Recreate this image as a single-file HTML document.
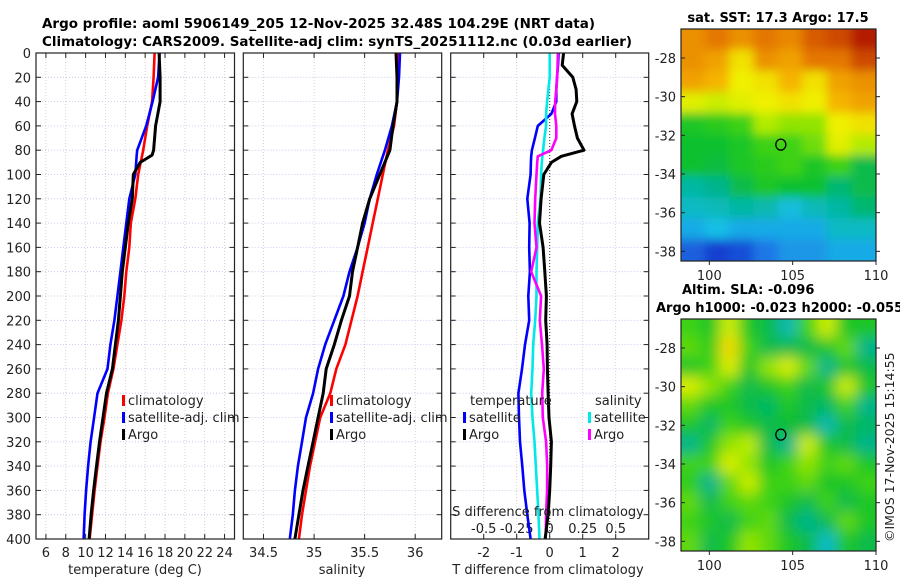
<!DOCTYPE html>
<html><head><meta charset="utf-8"><style>
body{margin:0;background:#fff;}
svg{display:block;font-family:"DejaVu Sans","Liberation Sans",sans-serif;}
</style></head><body>
<svg id="chart" width="900" height="580" viewBox="0 0 900 580" xmlns="http://www.w3.org/2000/svg">
<defs>
<filter id="blurS" filterUnits="userSpaceOnUse" x="660" y="10" width="240" height="270"><feGaussianBlur stdDeviation="5"/></filter>
<filter id="blurA" filterUnits="userSpaceOnUse" x="660" y="300" width="240" height="270"><feGaussianBlur stdDeviation="7"/></filter>
<clipPath id="clipTop"><rect x="681" y="29" width="195" height="232"/></clipPath>
<clipPath id="clipBot"><rect x="681" y="319" width="195" height="232"/></clipPath>
</defs>
<text x="42" y="28" font-size="13.5" font-weight="bold" textLength="553" lengthAdjust="spacingAndGlyphs">Argo profile: aoml 5906149_205 12-Nov-2025 32.48S 104.29E (NRT data)</text>
<text x="42" y="46" font-size="13.5" font-weight="bold" textLength="590" lengthAdjust="spacingAndGlyphs">Climatology: CARS2009. Satellite-adj clim: synTS_20251112.nc (0.03d earlier)</text>
<g id="g1"></g><g id="g2"></g><g id="g3"></g><g id="gm"></g>
<text x="778" y="22" font-size="13" font-weight="bold" text-anchor="middle">sat. SST: 17.3 Argo: 17.5</text>
<text x="682" y="294" font-size="13" font-weight="bold">Altim. SLA: -0.096</text>
<text x="656" y="312" font-size="13" font-weight="bold">Argo h1000: -0.023 h2000: -0.055</text>
<text transform="translate(894,542) rotate(-90)" font-size="12.5" fill="#222">©IMOS 17-Nov-2025 15:14:55</text>
</svg>
<script>
// ---- data ----
const tDepths=[0,20,40,60,80,84,90,100,120,140,160,180,200,220,240,260,280,300,320,340,360,380,400];
const tClim=[16.95,16.85,16.7,16.2,15.8,15.7,15.55,15.3,15.0,14.55,14.4,14.1,13.9,13.6,13.2,12.8,12.24,11.9,11.5,11.2,10.9,10.65,10.4];
const tSat=[17.45,17.3,16.75,16.1,15.2,15.15,15.1,15.0,14.4,14.1,13.8,13.5,13.2,12.9,12.5,12.2,11.2,10.85,10.5,10.25,10.05,9.9,9.8];
const tArgo=[17.4,17.5,17.5,17.05,16.85,16.7,15.5,14.8,14.7,14.3,14.0,13.7,13.5,13.3,13.0,12.7,12.1,11.75,11.4,11.1,10.8,10.55,10.35];
const sDepths=[0,20,40,60,80,100,120,140,160,180,200,220,240,260,280,300,320,340,360,380,400];
const sClim=[35.83,35.83,35.82,35.79,35.73,35.68,35.63,35.58,35.53,35.48,35.43,35.37,35.31,35.22,35.16,35.06,35.01,34.96,34.92,34.88,34.85];
const sSat=[35.85,35.84,35.82,35.77,35.70,35.62,35.55,35.50,35.43,35.35,35.29,35.20,35.11,35.04,34.99,34.92,34.88,34.84,34.81,34.79,34.76];
const sArgo=[35.81,35.82,35.82,35.78,35.75,35.65,35.55,35.48,35.43,35.38,35.35,35.27,35.20,35.12,35.09,35.04,34.99,34.94,34.89,34.85,34.81];
const dDepths=[0,10,20,30,40,50,60,70,80,85,90,100,120,140,160,180,200,220,240,260,280,300,320,340,360,380,400];
const dTSat=[0.27,0.25,0.22,0.2,0.2,0.05,-0.36,-0.45,-0.54,-0.56,-0.57,-0.58,-0.68,-0.61,-0.62,-0.6,-0.65,-0.62,-0.75,-0.84,-0.95,-0.93,-0.9,-0.83,-0.77,-0.68,-0.58];
const dTArgo=[0.42,0.38,0.7,0.8,0.82,0.68,0.75,0.84,1.04,0.35,0.05,-0.18,-0.26,-0.31,-0.2,-0.15,-0.1,-0.12,-0.08,-0.07,-0.05,-0.02,0.05,0.03,0.0,-0.05,-0.14];
const dSSat=[0,0,0,-0.01,-0.02,-0.027,-0.027,-0.04,-0.05,-0.055,-0.06,-0.065,-0.07,-0.09,-0.095,-0.1,-0.1,-0.11,-0.125,-0.13,-0.14,-0.13,-0.115,-0.105,-0.095,-0.085,-0.077];
const dSArgo=[0.062,0.06,0.057,0.05,0.042,0.04,0.05,0.05,0.012,-0.09,-0.095,-0.1,-0.11,-0.115,-0.1,-0.14,-0.065,-0.075,-0.058,-0.045,-0.057,-0.052,-0.027,-0.019,-0.02,-0.027,-0.03];
const depthTicks=[0,20,40,60,80,100,120,140,160,180,200,220,240,260,280,300,320,340,360,380,400];
const tTicks=[6,8,10,12,14,16,18,20,22,24];
const sTicks=[34.5,35,35.5,36];
const dTTicks=[-2,-1,0,1,2];
const dSTicks=[-0.5,-0.25,0,0.25,0.5];
const dSTickLabels=["-0.5","-0.25","0","0.25","0.5"];
const lonTicks=[100,105,110];
const latTicks=[-28,-30,-32,-34,-36,-38];
const sstGrid=[
[0.82,0.85,0.82,0.85,0.83,0.88,0.9,0.95],
[0.82,0.8,0.72,0.82,0.8,0.85,0.85,0.9],
[0.8,0.78,0.7,0.72,0.78,0.72,0.8,0.82],
[0.68,0.65,0.68,0.7,0.72,0.7,0.78,0.8],
[0.5,0.52,0.55,0.62,0.6,0.6,0.7,0.72],
[0.48,0.48,0.5,0.55,0.55,0.58,0.68,0.62],
[0.48,0.46,0.5,0.52,0.55,0.5,0.55,0.45],
[0.38,0.4,0.45,0.5,0.48,0.48,0.42,0.45],
[0.35,0.36,0.38,0.37,0.33,0.36,0.38,0.42],
[0.3,0.32,0.3,0.3,0.3,0.3,0.35,0.35],
[0.22,0.18,0.2,0.25,0.28,0.28,0.3,0.3]];
const slaGrid=[
[0.6,0.55,0.7,0.55,0.5,0.42,0.6,0.7,0.55,0.55],
[0.62,0.58,0.78,0.6,0.5,0.5,0.5,0.55,0.62,0.45],
[0.55,0.6,0.72,0.55,0.65,0.72,0.62,0.45,0.55,0.5],
[0.72,0.65,0.6,0.5,0.55,0.6,0.5,0.55,0.7,0.55],
[0.62,0.55,0.55,0.5,0.48,0.55,0.5,0.48,0.6,0.45],
[0.55,0.48,0.6,0.55,0.5,0.52,0.5,0.42,0.5,0.48],
[0.45,0.55,0.65,0.68,0.5,0.45,0.7,0.55,0.5,0.45],
[0.6,0.6,0.72,0.65,0.55,0.6,0.65,0.6,0.62,0.55],
[0.58,0.45,0.62,0.7,0.6,0.6,0.62,0.55,0.55,0.6],
[0.62,0.5,0.6,0.62,0.6,0.55,0.5,0.6,0.5,0.55],
[0.6,0.55,0.5,0.6,0.62,0.5,0.45,0.5,0.62,0.55],
[0.62,0.5,0.55,0.65,0.62,0.55,0.5,0.4,0.55,0.5]];
const argoLon=104.29, argoLat=-32.48;

// ---- helpers ----
const NS="http://www.w3.org/2000/svg";
function mk(tag,attrs,parent){const e=document.createElementNS(NS,tag);for(const k in attrs)e.setAttribute(k,attrs[k]);parent.appendChild(e);return e;}
const Y0=53,Y1=539;
const yD=d=>Y0+(d/400)*(Y1-Y0);
function lin(d0,d1,r0,r1){return v=>r0+(v-d0)/(d1-d0)*(r1-r0);}

function frame(g,x0,x1){
  depthTicks.forEach(d=>{
    const l=mk('line',{x1:x0,x2:x1,y1:yD(d),y2:yD(d),stroke:'#b8c4e8','stroke-width':0.8,'stroke-dasharray':'1,2'},g);
    
    
    mk('line',{x1:x0,x2:x0+5,y1:yD(d),y2:yD(d),stroke:'#222'},g);
    mk('line',{x1:x1,x2:x1-5,y1:yD(d),y2:yD(d),stroke:'#222'},g);
  });
}
function box(g,x0,x1,name){
  const r=mk('rect',{x:x0,y:Y0,width:x1-x0,height:Y1-Y0,fill:'none',stroke:'#222','stroke-width':1.2},g);
  
  
}
function vgrid(g,xs,sc){
  xs.forEach(v=>{
    const x=sc(v);
    mk('line',{x1:x,x2:x,y1:Y0,y2:Y1,stroke:'#d8c0c0','stroke-width':0.8,'stroke-dasharray':'1,2'},g);
    mk('line',{x1:x,x2:x,y1:Y1,y2:Y1-5,stroke:'#222'},g);
    mk('line',{x1:x,x2:x,y1:Y0,y2:Y0+5,stroke:'#222'},g);
  });
}
function line(g,xs,ds,sc,color,name,w){
  const pts=xs.map((v,i)=>sc(v).toFixed(1)+','+yD(ds[i]).toFixed(1)).join(' ');
  const p=mk('polyline',{points:pts,fill:'none',stroke:color,'stroke-width':w||2.6,'stroke-linejoin':'round'},g);
  
  
}
function txt(g,x,y,s,opts){const t=mk('text',Object.assign({x:x,y:y,'font-size':13,fill:'#222'},opts||{}),g);t.textContent=s;return t;}
function legend(g,x,y,items){
  items.forEach((it,i)=>{
    const yy=y+i*17;
    const b=mk('rect',{x:x,y:yy-10,width:3,height:11,fill:it[1]},g);
    
    
    const t=txt(g,x+6,yy,it[0]);
    
    
  });
}

// ---- panel 1: temperature ----
{
  const g=document.getElementById('g1');const x0=36,x1=234.5;
  const sc=lin(5,25,x0,x1);
  frame(g,x0,x1);vgrid(g,tTicks,sc);
  depthTicks.forEach(d=>{const t=txt(g,31,yD(d)+5,String(d),{'text-anchor':'end'});});
  tTicks.forEach(v=>{const t=txt(g,sc(v),557,String(v),{'text-anchor':'middle'});});
  line(g,tClim,tDepths,sc,'#ff0000','temperature-climatology-line');
  line(g,tSat,tDepths,sc,'#0000ff','temperature-satellite-line');
  line(g,tArgo,tDepths,sc,'#000000','temperature-argo-line',3);
  box(g,x0,x1,'temperature-plot-area');
  const xl=txt(g,135,574,'temperature (deg C)',{'text-anchor':'middle'});
  legend(g,122,405,[['climatology','#ff0000'],['satellite-adj. clim','#0000ff'],['Argo','#000']]);
}
// ---- panel 2: salinity ----
{
  const g=document.getElementById('g2');const x0=243.3,x1=441.7;
  const sc=lin(34.3,36.262,x0,x1);
  frame(g,x0,x1);vgrid(g,sTicks,sc);
  sTicks.forEach(v=>{const t=txt(g,sc(v),557,String(v),{'text-anchor':'middle'});});
  line(g,sClim,sDepths,sc,'#ff0000','salinity-climatology-line');
  line(g,sSat,sDepths,sc,'#0000ff','salinity-satellite-line');
  line(g,sArgo,sDepths,sc,'#000000','salinity-argo-line',3);
  box(g,x0,x1,'salinity-plot-area');
  const xl=txt(g,342,574,'salinity',{'text-anchor':'middle'});
  legend(g,330,405,[['climatology','#ff0000'],['satellite-adj. clim','#0000ff'],['Argo','#000']]);
}
// ---- panel 3: differences ----
{
  const g=document.getElementById('g3');const x0=450.7,x1=648.7;
  const scT=lin(-3,3,x0,x1), scS=lin(-0.75,0.75,x0,x1);
  frame(g,x0,x1);vgrid(g,dTTicks,scT);
  mk('line',{x1:scT(0),x2:scT(0),y1:Y0,y2:Y1,stroke:'#333','stroke-width':1,'stroke-dasharray':'1,2'},g);
  dTTicks.forEach(v=>{const t=txt(g,scT(v),557,String(v),{'text-anchor':'middle'});});
  dSTicks.forEach((v,i)=>{const t=txt(g,scS(v),533,dSTickLabels[i],{'text-anchor':'middle'});});
  line(g,dTSat,dDepths,scT,'#0000ff','t-diff-satellite-line');
  line(g,dSSat,dDepths,scS,'#00e8e8','s-diff-satellite-line');
  line(g,dSArgo,dDepths,scS,'#ff00ff','s-diff-argo-line');
  line(g,dTArgo,dDepths,scT,'#000000','t-diff-argo-line',3);
  box(g,x0,x1,'difference-plot-area');
  const s=txt(g,548,516,'S difference from climatology',{'text-anchor':'middle'});
  const xl=txt(g,548,574,'T difference from climatology',{'text-anchor':'middle'});
  const h1=txt(g,470,405,'temperature');
  const h2=txt(g,595,405,'salinity');
  legend(g,463,422,[['satellite','#0000ff'],['Argo','#000']]);
  legend(g,588,422,[['satellite','#00e8e8'],['Argo','#ff00ff']]);
}
// ---- maps ----
const cmapStops=[[0.15,[20,40,200]],[0.25,[30,120,230]],[0.32,[20,190,230]],[0.4,[0,180,140]],[0.47,[10,190,50]],[0.55,[60,210,20]],[0.62,[180,235,0]],[0.7,[240,240,0]],[0.78,[245,180,0]],[0.86,[225,110,0]],[0.95,[180,30,0]]];
function cmap(v){
  if(v<=cmapStops[0][0])return 'rgb('+cmapStops[0][1]+')';
  for(let i=1;i<cmapStops.length;i++){const a=cmapStops[i-1],b=cmapStops[i];if(v<=b[0]){const f=(v-a[0])/(b[0]-a[0]);return 'rgb('+a[1].map((c,k)=>Math.round(c+f*(b[1][k]-c))).join(',')+')';}}
  return 'rgb('+cmapStops[cmapStops.length-1][1]+')';
}
function map(g,top,grid,clip,filt,name,shift){
  const x0=681,x1=876,y1=top+232;
  const lon=lin(98.3,110.0,x0,x1), lat=lin(-26.5,-38.5,top,y1);
  const cg=mk('g',{'clip-path':'url(#'+clip+')'},g);
  const bg=mk('g',{filter:'url(#'+filt+')'},cg);
  const rows=grid.length, cols=grid[0].length;
  const cw=(x1-x0)/cols, ch=(y1-top)/rows;
  grid.forEach((row,r)=>row.forEach((v,c)=>{
    // extend edge cells outward so blur doesn't fade at borders
    const ex0=c===0?-15:0, ex1=c===cols-1?15:0, ey0=r===0?-15:0, ey1=r===rows-1?15:0;
    const cell=mk('rect',{x:x0+c*cw-0.5+ex0,y:top+r*ch-0.5+ey0,width:cw+1-ex0+ex1,height:ch+1-ey0+ey1,fill:cmap(v+shift)},bg);
    
    
  }));
  const f=mk('rect',{x:x0,y:top,width:x1-x0,height:y1-top,fill:'none',stroke:'#222','stroke-width':1.2},g);
  
  
  const m=mk('ellipse',{cx:lon(argoLon),cy:lat(argoLat),rx:5,ry:5.5,fill:'none',stroke:'#000','stroke-width':1.3},g);
  
  
  latTicks.forEach(v=>{
    mk('line',{x1:x0,x2:x0+4,y1:lat(v),y2:lat(v),stroke:'#222'},g);
    mk('line',{x1:x1,x2:x1+4,y1:lat(v),y2:lat(v),stroke:'#222'},g);
    const t=txt(g,x0-5,lat(v)+5,String(v),{'text-anchor':'end'});
    
    
  });
  lonTicks.forEach(v=>{
    mk('line',{x1:lon(v),x2:lon(v),y1:y1,y2:y1+4,stroke:'#222'},g);
    const t=txt(g,lon(v),y1+19,String(v),{'text-anchor':'middle'});
    
    
  });
}
const gm=document.getElementById('gm');
map(gm,29,sstGrid,'clipTop','blurS','sst-map',0);
map(gm,319,slaGrid,'clipBot','blurA','sla-map',-0.05);
</script>
</body></html>
